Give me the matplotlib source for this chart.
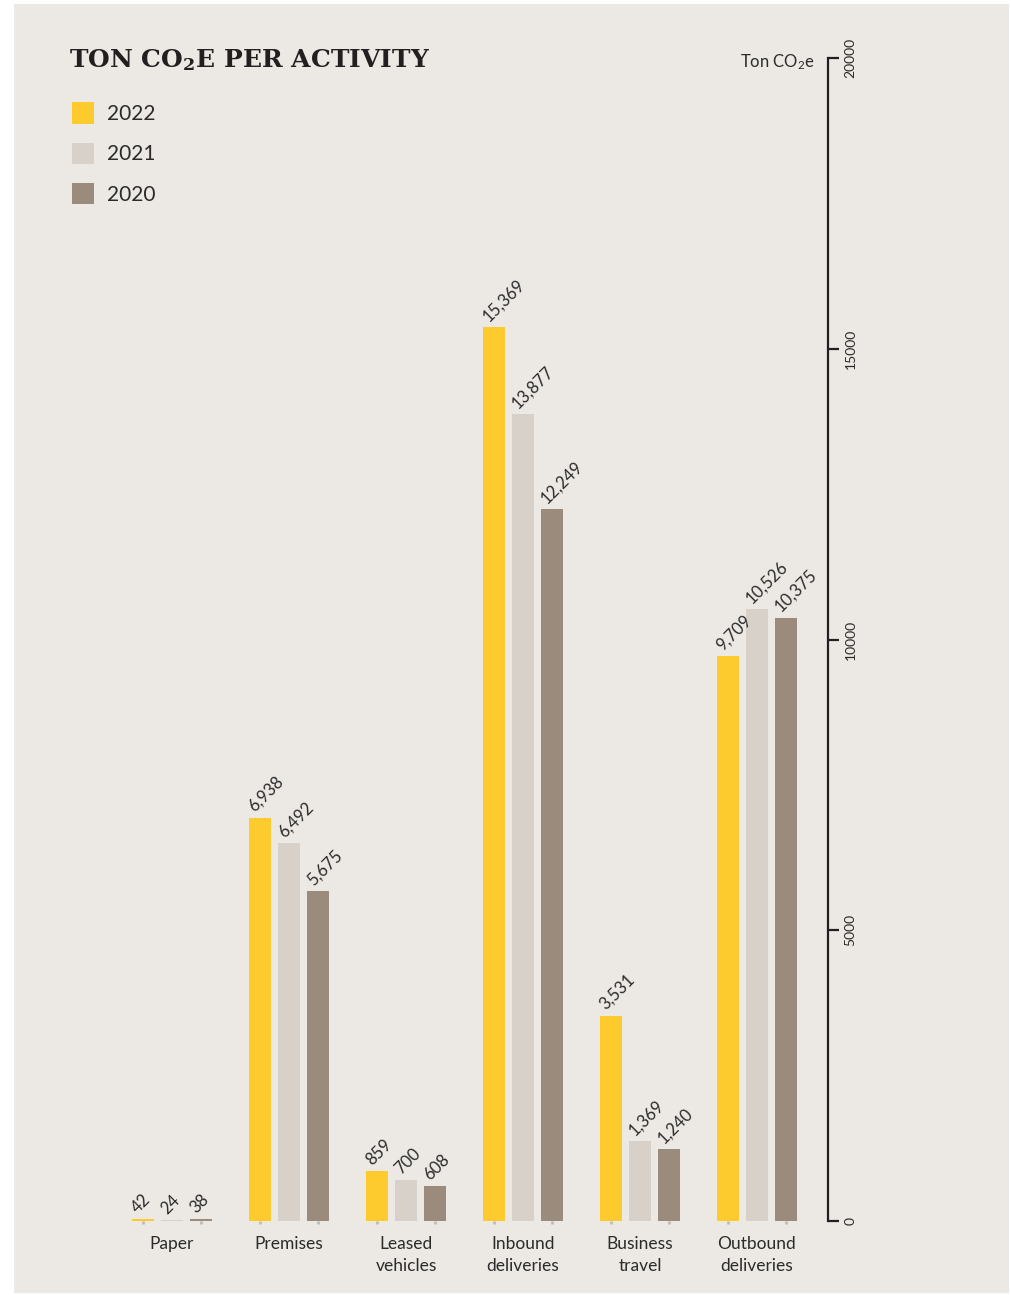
import matplotlib
matplotlib.use("Agg")
import matplotlib.pyplot as plt
import numpy as np
from matplotlib.patches import Rectangle

plt.rcParams['font.family'] = ['Lato', 'DejaVu Sans']
plt.rcParams['mathtext.default'] = 'regular'

# data
categories = ['Paper', 'Premises', 'Leased\nvehicles', 'Inbound\ndeliveries',
              'Business\ntravel', 'Outbound\ndeliveries']
years = ['2022', '2021', '2020']
v2022 = [42, 6938, 859, 15369, 3531, 9709]
v2021 = [24, 6492, 700, 13877, 1369, 10526]
v2020 = [38, 5675, 608, 12249, 1240, 10375]
yticks = [0, 5000, 10000, 15000, 20000]

colors = ['#FDCB2E', '#D8D1CA', '#9A8B7D']
bg = '#ECE9E5'
txt = '#2b2b2b'

W, H = 1011, 1295
fig = plt.figure(figsize=(W / 100, H / 100), dpi=100)
fig.patch.set_facecolor('white')
fig.add_artist(Rectangle((14 / W, 2 / H), 995 / W, 1289 / H, transform=fig.transFigure,
                         facecolor=bg, edgecolor='none', zorder=-10))

ax = fig.add_axes([72 / W, (H - 1221) / H, (828 - 72) / W, (1221 - 58) / H])
ax.set_facecolor('none')

x = np.arange(len(categories))
off = 0.25
bw = 0.19
for i, (vals, c) in enumerate(zip([v2022, v2021, v2020], colors)):
    xs = x + (i - 1) * off
    ax.bar(xs, vals, width=bw, color=c, label=years[i], zorder=2)
    for xx, v in zip(xs, vals):
        ax.annotate(f'{v:,}', (xx, v), xytext=(-2, 2), textcoords='offset points',
                    rotation=45, rotation_mode='anchor', ha='left', va='bottom',
                    fontsize=12, color=txt)

ax.set_xlim(-0.855, 5.607)
ax.set_ylim(0, 20000)

for s in ['left', 'top', 'bottom']:
    ax.spines[s].set_visible(False)
ax.spines['right'].set_linewidth(1.6)
ax.spines['right'].set_color('#231f20')

ax.yaxis.tick_right()
ax.set_yticks(yticks)
ax.set_yticklabels([str(t) for t in yticks], rotation=90, va='center')
ax.tick_params(axis='y', direction='out', length=8, width=1.6, color='#231f20',
               labelsize=10, labelcolor=txt, pad=4)

ax.set_xticks(x)
ax.set_xticklabels(categories, fontsize=12.5, color=txt, linespacing=1.45)
ax.tick_params(axis='x', length=0, pad=11)
ax.set_xticks(np.concatenate([x - off, x, x + off]), minor=True)
ax.tick_params(axis='x', which='minor', length=2, width=2, color='#c2bab2')

leg = ax.legend(loc='upper left', bbox_to_anchor=(0.0, 0.962), frameon=False,
                fontsize=15, handlelength=1.05, handleheight=1.2, handletextpad=0.65,
                labelspacing=0.9, labelcolor=txt, borderaxespad=0, borderpad=0)

fig.text(69 / W, 1 - 60 / H, r'TON CO$_\mathregular{2}$E PER ACTIVITY', fontsize=18,
         fontweight='bold', family='DejaVu Serif', color='#231f20', va='center')
fig.text(815 / W, 1 - 62 / H, r'Ton CO$_\mathregular{2}$e', fontsize=12, color=txt,
         ha='right', va='center')

fig.savefig('out.png', dpi=100, facecolor=fig.get_facecolor())
